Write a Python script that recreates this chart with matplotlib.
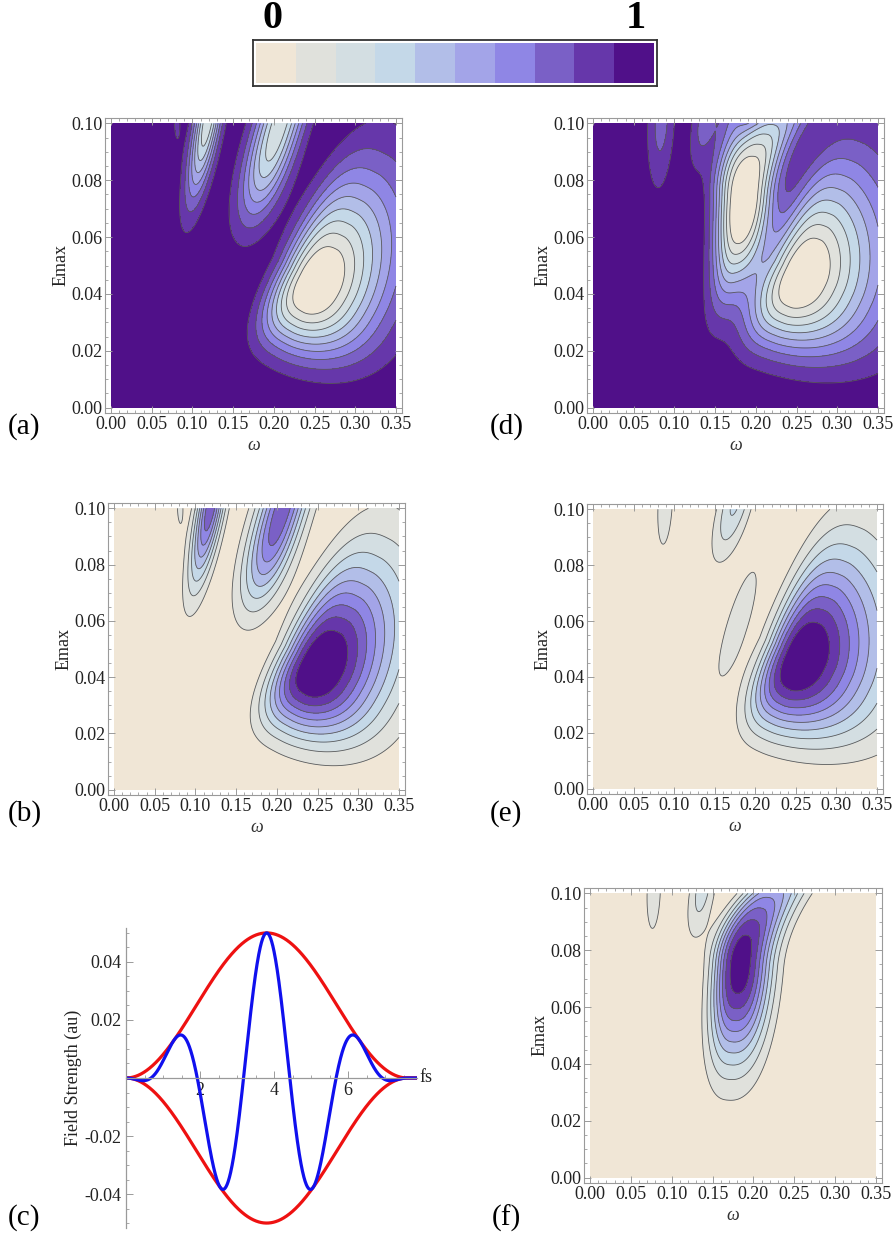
import numpy as np
import matplotlib
matplotlib.use("Agg")
import matplotlib.pyplot as plt
from matplotlib.ticker import MultipleLocator, FormatStrFormatter

plt.rcParams["font.family"] = ["Liberation Serif", "DejaVu Serif"]
plt.rcParams["axes.unicode_minus"] = True

# ten-step palette, 0 (beige) -> 1 (deep purple)
colors = ["#f0e6d6", "#e0e1dc", "#d3dee2", "#c4d8e8", "#b2bee8",
          "#a3a4e8", "#8f86e5", "#7a60c6", "#6637aa", "#501089"]
levels = np.linspace(0, 1, 11)

# probability lobes in the (omega, Emax) plane, widths in units of the axis span
# (omega0, E0, amp, angle_deg,
#  a_back, p, a_front, p, b_right, p, b_left, p, bend, grow)
lobes_b = [
    (0.256, 0.044, 1.04, 62, 0.25, 2.6, 0.385, 1.8, 0.227, 1.8, 0.138, 3.0, 0.0, 0.5),
    (0.119, 0.101, 0.78, 79, 0.28, 2.0, 0.28, 2.0, 0.045, 2.0, 0.045, 2.0, 0.0, 0.0),
    (0.208, 0.101, 0.78, 73, 0.35, 2.6, 0.35, 2.6, 0.079, 2.0, 0.079, 2.0, 0.0, 0.0),
    (0.081, 0.101, 0.12, 90, 0.12, 2.0, 0.12, 2.0, 0.020, 2.0, 0.020, 2.0, 0.0, 0.0),
]
lobes_e = [
    (0.262, 0.047, 1.04, 66, 0.27, 2.6, 0.380, 1.8, 0.260, 1.6, 0.130, 3.0, 0.0, 0.5),
    (0.089, 0.102, 0.14, 87, 0.25, 2.0, 0.25, 2.0, 0.043, 2.0, 0.043, 2.0, 0.0, 0.0),
    (0.176, 0.103, 0.32, 74, 0.21, 2.0, 0.21, 2.0, 0.054, 2.0, 0.054, 2.0, 0.0, 0.0),
    (0.178, 0.059, 0.14, 73, 0.33, 2.0, 0.33, 2.0, 0.060, 2.0, 0.060, 2.0, 0.0, 0.0),
]
lobes_f = [
    (0.183, 0.075, 0.97, 85, 0.33, 2.2, 0.34, 2.2, 0.110, 2.4, 0.088, 2.5, -1.3, 0.0),
    (0.078, 0.101, 0.13, 88, 0.26, 2.0, 0.26, 2.0, 0.045, 2.0, 0.045, 2.0, 0.0, 0.0),
    (0.138, 0.102, 0.25, 80, 0.18, 2.0, 0.18, 2.0, 0.045, 2.0, 0.045, 2.0, 0.0, 0.0),
]

# laser pulse of panel (c): peak field (au), duration (fs), carrier period (fs)
pulse_E0 = 0.05
pulse_T = 7.6
pulse_period = 2.5
t_max = 7.86

omega = np.linspace(0, 0.35, 351)
emax = np.linspace(0, 0.1, 301)
OM, EM = np.meshgrid(omega, emax)


def field(lobes):
    z = np.zeros_like(OM)
    for (w0, e0, amp, ang, a_lo, pa_lo, a_hi, pa_hi,
         b_lo, pb_lo, b_hi, pb_hi, bend, grow) in lobes:
        dx = (OM - w0) / 0.35
        dy = (EM - e0) / 0.1
        th = np.radians(ang)
        u = dx * np.cos(th) + dy * np.sin(th)
        v = -dx * np.sin(th) + dy * np.cos(th)
        v = v - bend * np.maximum(u, 0) ** 2
        b_left = b_hi * (1 + grow * np.maximum(u, 0))
        ta = np.where(u < 0, (-u / a_lo) ** pa_lo, (u / a_hi) ** pa_hi)
        tb = np.where(v < 0, (-v / b_lo) ** pb_lo, (v / b_left) ** pb_hi)
        z += amp * np.exp(-(ta + tb))
    return np.clip(z, 1e-6, 1 - 1e-6)


P_b = field(lobes_b)
P_e = field(lobes_e)
P_f = field(lobes_f)
P_a = np.clip(1 - P_b, 1e-6, 1 - 1e-6)
P_d = np.clip(1 - P_e - P_f, 1e-6, 1 - 1e-6)

W, H = 896, 1238
fig = plt.figure(figsize=(W / 100, H / 100), dpi=100)


def px_axes(x0, y0, x1, y1):
    return fig.add_axes([x0 / W, 1 - y1 / H, (x1 - x0) / W, (y1 - y0) / H])


def contour_panel(box, z):
    ax = px_axes(*box)
    ax.contourf(omega, emax, z, levels=levels, colors=colors)
    ax.contour(omega, emax, z, levels=levels[1:-1], colors="#5a5a5a",
               linewidths=0.6)
    ax.set_xlim(-0.0074, 0.3574)
    ax.set_ylim(-0.0019, 0.1019)
    ax.xaxis.set_major_locator(MultipleLocator(0.05))
    ax.xaxis.set_minor_locator(MultipleLocator(0.01))
    ax.yaxis.set_major_locator(MultipleLocator(0.02))
    ax.yaxis.set_minor_locator(MultipleLocator(0.005))
    ax.xaxis.set_major_formatter(FormatStrFormatter("%.2f"))
    ax.yaxis.set_major_formatter(FormatStrFormatter("%.2f"))
    ax.tick_params(which="both", direction="in", top=True, right=True,
                   color="#9a9a9a", labelsize=13, labelcolor="#222222", pad=2)
    ax.tick_params(which="major", length=5, width=0.7)
    ax.tick_params(which="minor", length=2.5, width=0.6)
    for s in ax.spines.values():
        s.set_color("#9a9a9a")
        s.set_linewidth(0.8)
    ax.set_xlabel("ω", style="italic", fontsize=13, labelpad=3, color="#333333")
    ax.set_ylabel("Emax", fontsize=13, labelpad=1, color="#222222")
    return ax


contour_panel((105, 118, 402, 413), P_a)
contour_panel((587, 118, 884, 413), P_d)
contour_panel((108, 503, 405, 795), P_b)
contour_panel((587, 504, 883, 794), P_e)
contour_panel((584, 888, 882, 1183), P_f)

# colour key
cax = px_axes(253, 40, 657, 86)
cax.bar(np.arange(10), 1, width=1, align="edge", color=colors)
cax.set_xlim(-3 / 39.8, 10 + 3 / 39.8)
cax.set_ylim(-3 / 40, 1 + 3 / 40)
cax.set_xticks([])
cax.set_yticks([])
for s in cax.spines.values():
    s.set_color("#333333")
    s.set_linewidth(1.3)
fig.text(272 / W, 1 - 19 / H, "0", fontsize=29, fontweight="bold",
         ha="center", va="center")
fig.text(636 / W, 1 - 19 / H, "1", fontsize=29, fontweight="bold",
         ha="center", va="center")

# panel (c): the driving pulse and its envelope
t = np.linspace(0, t_max, 1200)
env = np.where(t <= pulse_T, pulse_E0 * np.sin(np.pi * t / pulse_T) ** 2, 0)
pulse = env * np.cos(2 * np.pi * (t - pulse_T / 2) / pulse_period)

axc = px_axes(126, 928, 417, 1228)
axc.plot(t, env, color="#ee1111", lw=2.3)
axc.plot(t, -env, color="#ee1111", lw=2.3)
axc.plot(t, pulse, color="#1010ee", lw=2.3)
axc.set_xlim(0, t_max)
axc.set_ylim(-0.0517, 0.0517)
axc.spines["bottom"].set_position(("data", 0))
axc.spines["top"].set_visible(False)
axc.spines["right"].set_visible(False)
for s in ("left", "bottom"):
    axc.spines[s].set_color("#9a9a9a")
    axc.spines[s].set_linewidth(0.9)
axc.set_xticks([2, 4, 6])
axc.xaxis.set_minor_locator(MultipleLocator(0.5))
axc.set_yticks([-0.04, -0.02, 0.02, 0.04])
axc.yaxis.set_minor_locator(MultipleLocator(0.005))
axc.yaxis.set_major_formatter(FormatStrFormatter("%.2f"))
axc.tick_params(which="both", direction="in", color="#9a9a9a",
                labelsize=13, labelcolor="#222222", pad=3)
axc.tick_params(which="major", length=5, width=0.7)
axc.tick_params(which="minor", length=2.5, width=0.6)
axc.set_ylabel("Field Strength (au)", fontsize=13, labelpad=2, color="#222222")
axc.text(1.01, 0.5, "fs", transform=axc.transAxes, fontsize=13,
         ha="left", va="center", color="#222222")

for label, (x, y) in {"(a)": (8, 427), "(d)": (490, 427), "(b)": (8, 814),
                      "(e)": (490, 814), "(c)": (8, 1218),
                      "(f)": (492, 1218)}.items():
    fig.text(x / W, 1 - y / H, label, fontsize=21, ha="left", va="center")

fig.savefig("out.png", dpi=100, facecolor="white")
